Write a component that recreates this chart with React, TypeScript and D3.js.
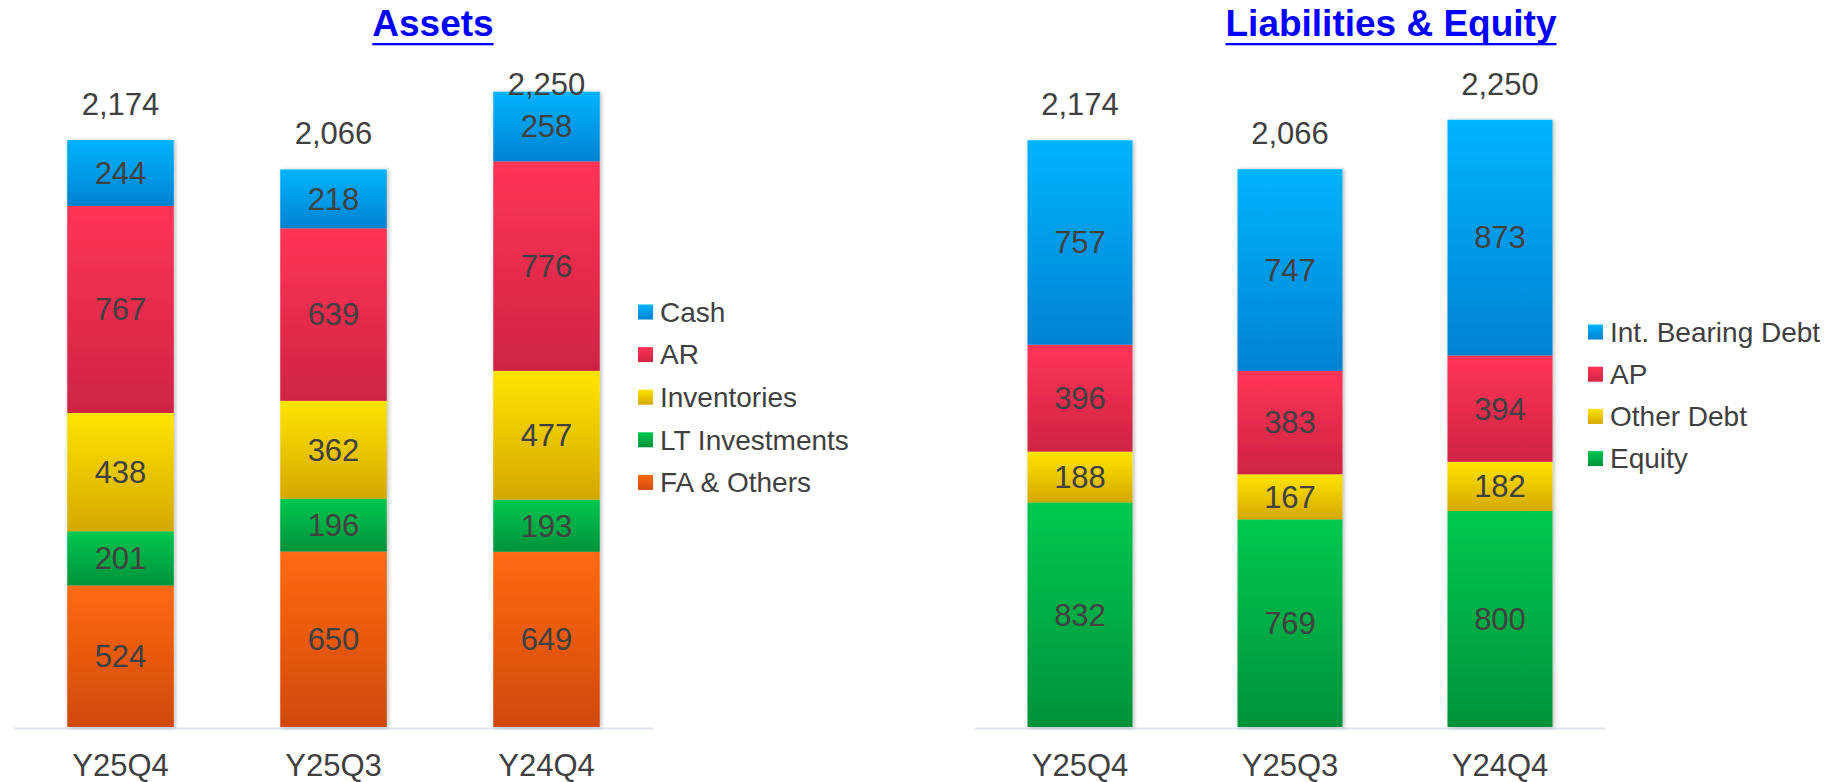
import { useRef, useEffect } from "react";
import * as d3 from "d3";

const categories = ["Y25Q4", "Y25Q3", "Y24Q4"];

// Assets (bottom -> top in the stack)
const assetKeys = ["FA & Others", "LT Investments", "Inventories", "AR", "Cash"];
const cash = [244, 218, 258];
const ar = [767, 639, 776];
const inventories = [438, 362, 477];
const ltInvestments = [201, 196, 193];
const faOthers = [524, 650, 649];
const assetTotals = [2174, 2066, 2250];

// Liabilities & Equity (bottom -> top)
const liabKeys = ["Equity", "Other Debt", "AP", "Int. Bearing Debt"];
const intBearingDebt = [757, 747, 873];
const ap = [396, 383, 394];
const otherDebt = [188, 167, 182];
const equity = [832, 769, 800];
const liabTotals = [2174, 2066, 2250];

const gradients: Record<string, [string, string]> = {
  blue: ["#00b4ff", "#0082d2"],
  red: ["#ff3457", "#cf2443"],
  yellow: ["#ffe500", "#d4a800"],
  green: ["#00c850", "#00923a"],
  orange: ["#ff6a12", "#d0490e"],
};

const seriesColor: Record<string, string> = {
  Cash: "blue",
  AR: "red",
  Inventories: "yellow",
  "LT Investments": "green",
  "FA & Others": "orange",
  "Int. Bearing Debt": "blue",
  AP: "red",
  "Other Debt": "yellow",
  Equity: "green",
};

const width = 1830;
const height = 782;
const font = "'Liberation Sans', Arial, sans-serif";
const textColor = "#404040";

function drawPanel(svg: any, opts: any) {
  const { title, titleX, keys, values, totals, x0, x1, legendX, legendY0, legendStep } = opts;
  const rows = categories.map((c, i) => {
    const r: any = { category: c };
    keys.forEach((k: string) => (r[k] = values[k][i]));
    return r;
  });

  const x = d3.scaleBand().domain(categories).range([x0, x1]).paddingInner(0.5).paddingOuter(0.25);
  const y = d3.scaleLinear().domain([0, 2500]).range([727, 52]);
  const stacked = d3.stack().keys(keys)(rows);

  // title
  const t = svg
    .append("text")
    .attr("x", titleX)
    .attr("y", 36)
    .attr("text-anchor", "middle")
    .attr("font-family", font)
    .attr("font-weight", "bold")
    .attr("font-size", 37)
    .attr("fill", "#0000ff")
    .text(title);
  const tw = (t.node() as SVGTextElement).getComputedTextLength();
  svg
    .append("rect")
    .attr("x", titleX - tw / 2)
    .attr("y", 43)
    .attr("width", tw)
    .attr("height", 2.3)
    .attr("fill", "#0000ff");

  // axis line
  svg
    .append("line")
    .attr("x1", x0)
    .attr("x2", x1)
    .attr("y1", 728.5)
    .attr("y2", 728.5)
    .attr("stroke", "#dfe5ef")
    .attr("stroke-width", 2);

  // bars grouped by category so the shadow wraps the whole stack
  const groups = svg
    .selectAll(null)
    .data(categories)
    .enter()
    .append("g")
    .attr("filter", "url(#shadow)");

  groups.each(function (this: SVGGElement, c: string, i: number) {
    const g = d3.select(this);
    stacked.forEach((s: any) => {
      const d = s[i];
      g.append("rect")
        .attr("x", x(c))
        .attr("y", y(d[1]))
        .attr("width", x.bandwidth())
        .attr("height", y(d[0]) - y(d[1]))
        .attr("fill", `url(#grad-${seriesColor[s.key]})`);
    });
  });

  // segment labels
  stacked.forEach((s: any) => {
    svg
      .selectAll(null)
      .data(s)
      .enter()
      .append("text")
      .attr("x", (d: any, i: number) => (x(categories[i]) as number) + x.bandwidth() / 2)
      .attr("y", (d: any) => (y(d[0]) + y(d[1])) / 2)
      .attr("dy", "0.35em")
      .attr("text-anchor", "middle")
      .attr("font-family", font)
      .attr("font-size", 31)
      .attr("fill", textColor)
      .text((d: any) => d3.format(",")(d[1] - d[0]));
  });

  // totals
  svg
    .selectAll(null)
    .data(totals)
    .enter()
    .append("text")
    .attr("x", (d: number, i: number) => (x(categories[i]) as number) + x.bandwidth() / 2)
    .attr("y", (d: number) => y(d) - 25)
    .attr("text-anchor", "middle")
    .attr("font-family", font)
    .attr("font-size", 31)
    .attr("fill", textColor)
    .text((d: number) => d3.format(",")(d));

  // category labels
  svg
    .selectAll(null)
    .data(categories)
    .enter()
    .append("text")
    .attr("x", (c: string) => (x(c) as number) + x.bandwidth() / 2)
    .attr("y", 776)
    .attr("text-anchor", "middle")
    .attr("font-family", font)
    .attr("font-size", 31)
    .attr("fill", textColor)
    .text((c: string) => c);

  // legend (top -> bottom = reverse stack order)
  const legendKeys = [...keys].reverse();
  const lg = svg
    .selectAll(null)
    .data(legendKeys)
    .enter()
    .append("g")
    .attr("transform", (k: string, i: number) => `translate(${legendX},${legendY0 + i * legendStep})`);
  lg.append("rect")
    .attr("x", 0)
    .attr("y", -7.5)
    .attr("width", 15)
    .attr("height", 15)
    .attr("fill", (k: string) => `url(#grad-${seriesColor[k]})`);
  lg.append("text")
    .attr("x", 22)
    .attr("dy", "0.35em")
    .attr("font-family", font)
    .attr("font-size", 28)
    .attr("fill", textColor)
    .text((k: string) => k);
}

const App = () => {
  const svgRef = useRef<SVGSVGElement>(null);

  useEffect(() => {
    document.body.style.margin = "0";
    const svg = d3.select(svgRef.current).attr("width", width).attr("height", height);
    svg.selectAll("*").remove();

    const defs = svg.append("defs");
    Object.entries(gradients).forEach(([name, [top, bottom]]) => {
      const lg = defs
        .append("linearGradient")
        .attr("id", `grad-${name}`)
        .attr("x1", 0)
        .attr("y1", 0)
        .attr("x2", 0)
        .attr("y2", 1);
      lg.append("stop").attr("offset", "0%").attr("stop-color", top);
      lg.append("stop").attr("offset", "100%").attr("stop-color", bottom);
    });
    defs
      .append("filter")
      .attr("id", "shadow")
      .attr("x", "-10%")
      .attr("y", "-5%")
      .attr("width", "120%")
      .attr("height", "110%")
      .append("feDropShadow")
      .attr("dx", 1.5)
      .attr("dy", 0.5)
      .attr("stdDeviation", 2)
      .attr("flood-color", "#000")
      .attr("flood-opacity", 0.28);

    drawPanel(svg, {
      title: "Assets",
      titleX: 433,
      keys: assetKeys,
      values: {
        Cash: cash,
        AR: ar,
        Inventories: inventories,
        "LT Investments": ltInvestments,
        "FA & Others": faOthers,
      },
      totals: assetTotals,
      x0: 14,
      x1: 653,
      legendX: 638,
      legendY0: 312,
      legendStep: 42.6,
    });

    drawPanel(svg, {
      title: "Liabilities & Equity",
      titleX: 1391,
      keys: liabKeys,
      values: {
        "Int. Bearing Debt": intBearingDebt,
        AP: ap,
        "Other Debt": otherDebt,
        Equity: equity,
      },
      totals: liabTotals,
      x0: 975,
      x1: 1605,
      legendX: 1588,
      legendY0: 332,
      legendStep: 42.2,
    });
  }, []);

  return <svg ref={svgRef} style={{ display: "block" }}></svg>;
};

export default App;
